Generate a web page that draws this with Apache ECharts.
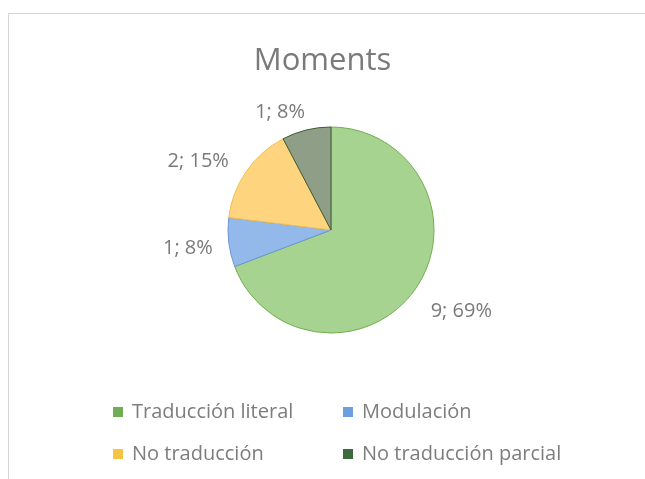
<!DOCTYPE html>
<html>
<head>
<meta charset="utf-8">
<script src="https://cdn.jsdelivr.net/npm/echarts@6/dist/echarts.min.js"></script>
<style>
  html, body { margin: 0; padding: 0; background: #fff; }
  #main { width: 645px; height: 479px; }
</style>
</head>
<body>
<div id="main"></div>
<script>
// datos del gráfico
var categorias = ["Traducción literal", "Modulación", "No traducción", "No traducción parcial"];
var valores = [9, 1, 2, 1];
var porcentajes = [69, 8, 15, 8];
var rellenos = ["#a6d38f", "#93b8ea", "#ffd47f", "#8f9e87"];
var bordes = ["#73ad4f", "#6b98d6", "#f0c050", "#3f5a30"];
var marcadores = ["#6fae55", "#6f9ee0", "#f6c344", "#3d6b3d"];

// distancia de la etiqueta al borde y pequeño ajuste (estilo Excel)
var largoEtiqueta = [12, 11, 15, 18];
var ajusteEtiqueta = [[0, 16], [0, 5], [0, -2], [8, 0]];

var myChart = echarts.init(document.getElementById("main"));

var datos = categorias.map(function (c, i) {
  return {
    name: c,
    value: valores[i],
    itemStyle: { color: rellenos[i], borderColor: bordes[i] },
    labelLine: { length: largoEtiqueta[i], length2: 0 }
  };
});

function itemsLeyenda(idx) {
  return idx.map(function (i) {
    return { name: categorias[i], itemStyle: { color: marcadores[i], borderWidth: 0 } };
  });
}

var textoLeyenda = {
  color: "#7d7d7d",
  fontSize: 20,
  lineHeight: 20,
  fontFamily: "Open Sans",
  padding: [0, 0, 0, 4]
};

myChart.setOption({
  backgroundColor: "#fff",
  title: {
    text: "Moments",
    left: "center",
    top: 41,
    textStyle: {
      color: "#7a7a7a",
      fontSize: 31,
      fontWeight: "normal",
      fontFamily: "Open Sans"
    }
  },
  graphic: [
    {
      type: "rect",
      shape: { x: 8.5, y: 13.5, width: 660, height: 500 },
      style: { fill: "none", stroke: "#d4d4d4", lineWidth: 1 }
    }
  ],
  legend: [
    {
      orient: "vertical",
      left: 108,
      top: 397,
      itemWidth: 10,
      itemHeight: 10,
      itemGap: 22,
      icon: "rect",
      data: itemsLeyenda([0, 2]),
      textStyle: textoLeyenda
    },
    {
      orient: "vertical",
      left: 338,
      top: 397,
      itemWidth: 10,
      itemHeight: 10,
      itemGap: 22,
      icon: "rect",
      data: itemsLeyenda([1, 3]),
      textStyle: textoLeyenda
    }
  ],
  series: [
    {
      name: "Moments",
      type: "pie",
      center: [331, 230],
      radius: 103,
      startAngle: 90,
      clockwise: true,
      animation: false,
      avoidLabelOverlap: false,
      itemStyle: { borderWidth: 1 },
      emphasis: { disabled: true },
      label: {
        show: true,
        position: "outside",
        color: "#7a7a7a",
        fontSize: 20,
        fontFamily: "Open Sans",
        formatter: function (p) {
          return valores[p.dataIndex] + "; " + porcentajes[p.dataIndex] + "%";
        }
      },
      labelLine: { show: false },
      labelLayout: function (p) {
        var a = ajusteEtiqueta[p.dataIndex];
        return { dx: a[0], dy: a[1] };
      },
      data: datos
    }
  ]
});
</script>
</body>
</html>
